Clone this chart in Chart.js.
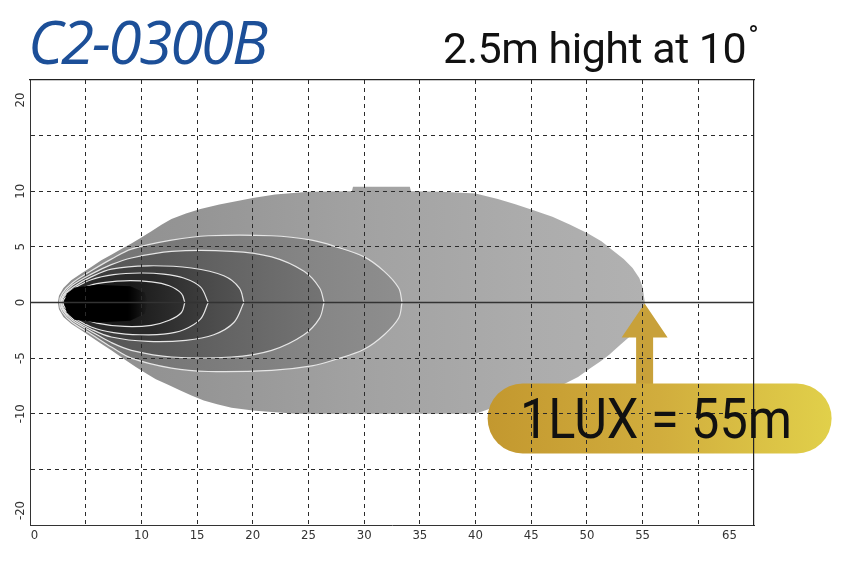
<!DOCTYPE html>
<html>
<head>
<meta charset="utf-8">
<title>C2-0300B beam pattern</title>
<script src="https://cdn.jsdelivr.net/npm/chart.js@4.4.1/dist/chart.umd.min.js"></script>
<style>
  html, body { margin: 0; padding: 0; background: #fff; }
  #wrap { position: relative; width: 860px; height: 580px; overflow: hidden; }
  #beam { position: absolute; left: 0; top: 0; }
  .model { position: absolute; left: 28px; top: 11px; font: italic 400 60px/1 'Open Sans', sans-serif; letter-spacing: -2.2px; color: #1c4f98; white-space: nowrap; }
  .mount { position: absolute; left: 443px; top: 27px; font: 400 43px/1 Roboto, sans-serif; letter-spacing: -0.5px; color: #111; white-space: nowrap; }
  .mount .deg { font-size: 28px; position: relative; top: -18px; margin-left: 2px; }
  .lux { position: absolute; left: 484px; top: 391px; width: 344px; text-align: center; font: 400 56px/1 Roboto, sans-serif; color: #111; white-space: nowrap; transform: scaleX(0.9); }
</style>
</head>
<body>
<div id="wrap">
  <canvas id="beam" width="860" height="580"></canvas>
  <div class="model">C2-0300B</div>
  <div class="mount">2.5m hight at 10<span class="deg">°</span></div>
  <div class="lux">1LUX = 55m</div>
</div>
<script>
// axis ticks (metres) - the original sheet has a few labels nudged off their grid lines
const xGridValues = [5, 10, 15, 20, 25, 30, 35, 40, 45, 50, 55, 60];
const xTickValues = [0.4, 10, 15, 20, 25, 30, 35, 40, 45, 50, 55, 62.8];
const xTickLabels = ['0', '10', '15', '20', '25', '30', '35', '40', '45', '50', '55', '65'];
const yGridValues = [-15, -10, -5, 5, 10, 15];
const yTickValues = [-18.7, -10, -5, 0, 5, 10, 18.2];
const yTickLabels = ['-20', '-10', '-5', '0', '5', '10', '20'];

const luxRangeMetres = 55;

// outlines as [distance ahead, sideways offset]
const lux1Edge = [[55.2,0],[55.0,1.4],[54.7,2.2],[54.1,3.1],[53.3,3.9],[52.3,4.7],[51.3,5.5],[50.1,6.2],[48.5,7.0],[46.9,7.7],[45.2,8.3],[43.5,8.85],[42,9.3],[40,9.8],[37,9.95],[34.2,10.0],[34.1,10.4],[29.0,10.4],[28.9,10.0],[25,9.95],[22,9.7],[20,9.4],[18.5,9.1],[17,8.8],[15.3,8.4],[14,8.0],[12.7,7.5],[11.8,7.0],[10.9,6.4],[10,5.85],[9.1,5.3],[8.2,4.8],[7.3,4.3],[6.4,3.8],[5.5,3.2],[4.6,2.6],[3.7,2.0],[3.0,1.3],[2.6,0.6],[2.5,0],
  [2.6,-0.6],[3.0,-1.3],[3.7,-1.9],[4.6,-2.5],[5.5,-3.1],[6.4,-3.7],[7.3,-4.3],[8.4,-5.05],[9.5,-5.8],[10.4,-6.35],[11.3,-6.9],[12.4,-7.4],[13.5,-7.9],[14.5,-8.35],[15.6,-8.8],[16.8,-9.15],[18.1,-9.45],[20,-9.7],[21.7,-9.85],[23.9,-10.0],[40,-10.0],[42,-9.3],[45,-8.4],[47.6,-7.5],[49.2,-6.7],[50.3,-5.9],[51.2,-5.3],[52,-4.7],[53,-3.8],[53.9,-3.0],[54.5,-2.2],[54.8,-1.6],[55.1,-0.7],[55.2,0]];
const contourE = [[33.4,0],[33.1,1.3],[31.8,2.8],[30,4.1],[27.5,5.0],[25.3,5.6],[21.7,6.0],[16,6.0],[12.7,5.6],[9.1,4.8],[7.3,3.9],[5.5,2.85],[3.8,1.75],[2.9,0.8],[2.65,0],
  [2.9,-0.85],[3.8,-1.8],[5.5,-2.85],[7.3,-4.0],[9.1,-5.0],[12.7,-5.9],[16,-6.2],[21.7,-6.1],[25.3,-5.7],[27.5,-5.1],[30,-4.2],[31.8,-2.9],[33.1,-1.4],[33.4,0]];
const contourD = [[26.4,0],[26,1.3],[24.6,2.8],[21.7,4.1],[18.1,4.6],[12.7,4.6],[9.1,4.0],[7.3,3.4],[5.5,2.55],[3.8,1.55],[3.0,0.7],[2.75,0],
  [3.0,-0.75],[3.8,-1.6],[5.5,-2.6],[7.3,-3.6],[9.1,-4.3],[12.7,-4.9],[18.1,-4.9],[21.7,-4.3],[24.6,-2.9],[26,-1.4],[26.4,0]];
const contourC = [[19.2,0],[18.8,1.3],[17.4,2.4],[14.5,3.1],[10.6,3.3],[7.3,3.0],[5.5,2.3],[3.9,1.4],[3.05,0.65],[2.8,0],
  [3.05,-0.7],[3.9,-1.5],[5.5,-2.4],[7.3,-3.1],[10.6,-3.5],[14,-3.4],[16.5,-2.9],[18.3,-1.8],[19.2,0]];
const contourB = [[16,0],[15.3,1.4],[13.8,2.2],[12,2.55],[9.9,2.65],[7.5,2.5],[5.5,2.05],[4,1.3],[3.1,0.6],[2.85,0],
  [3.1,-0.65],[4,-1.4],[5.5,-2.2],[7.5,-2.7],[9.9,-2.9],[12,-2.85],[13.8,-2.45],[15.3,-1.5],[16,0]];
const contourA = [[13.9,0],[13.6,0.8],[12.5,1.5],[10.9,1.85],[8.5,1.95],[6,1.7],[4.5,1.2],[3.3,0.55],[2.95,0],
  [3.3,-0.6],[4.5,-1.3],[6,-1.85],[8.5,-2.15],[10.9,-2.05],[12.5,-1.6],[13.6,-0.9],[13.9,0]];
const hotCore = [[10.6,0],[10.3,0.9],[9,1.45],[6,1.6],[4,1.35],[3.3,0.8],[3.05,0],
  [3.3,-0.9],[4,-1.55],[6,-1.8],[9,-1.65],[10.3,-1.0],[10.6,0]];
const centreLine = [[0,0],[65,0]];

const pts = arr => arr.map(([x, y]) => ({ x, y }));
const mergeTicks = (a, b) => [...new Set([...a, ...b])].sort((p, q) => p - q).map(value => ({ value }));
const labelFor = (values, labels) => v => {
    const i = values.indexOf(v);
    return i >= 0 ? labels[i] : '';
};

// horizontal grey ramp along the beam, stops given in metres
function xShade(stops) {
    return (context) => {
        const chart = context.chart;
        const xs = chart.scales.x;
        if (!chart.chartArea || !xs) return stops[0][1];
        const first = stops[0][0], last = stops[stops.length - 1][0];
        const g = chart.ctx.createLinearGradient(xs.getPixelForValue(first), 0, xs.getPixelForValue(last), 0);
        stops.forEach(([v, c]) => g.addColorStop((v - first) / (last - first), c));
        return g;
    };
}

function zone(label, outline, stops, order, line = true) {
    return {
        label,
        data: pts(outline),
        showLine: true,
        fill: 'shape',
        tension: line ? 0.35 : 0,
        backgroundColor: xShade(stops),
        borderColor: '#e6e6e6',
        borderWidth: line ? 1.2 : 0,
        pointRadius: 0,
        order
    };
}

// gold arrow + pill behind the "1LUX" text
const luxBadge = {
    id: 'luxBadge',
    afterDatasetsDraw(chart) {
        const { ctx, scales: { x, y } } = chart;
        const tipX = x.getPixelForValue(luxRangeMetres) + 2;
        const tipY = y.getPixelForValue(0) + 1;
        ctx.save();
        ctx.fillStyle = '#c8a13a';
        ctx.beginPath();
        ctx.moveTo(tipX, tipY);
        ctx.lineTo(tipX + 23, tipY + 34);
        ctx.lineTo(tipX + 8.5, tipY + 34);
        ctx.lineTo(tipX + 8.5, tipY + 85);
        ctx.lineTo(tipX - 8.5, tipY + 85);
        ctx.lineTo(tipX - 8.5, tipY + 34);
        ctx.lineTo(tipX - 23, tipY + 34);
        ctx.closePath();
        ctx.fill();

        const left = tipX - 157, right = tipX + 187, top = tipY + 80, bottom = tipY + 150;
        const g = ctx.createLinearGradient(left, 0, right, 0);
        g.addColorStop(0, '#c3982f');
        g.addColorStop(0.5, '#d1ad3d');
        g.addColorStop(1, '#e1d04a');
        ctx.fillStyle = g;
        ctx.beginPath();
        ctx.roundRect(left, top, right - left, bottom - top, (bottom - top) / 2);
        ctx.fill();
        ctx.restore();
    }
};

const tickFont = { family: "'DejaVu Sans Condensed', 'Liberation Sans Narrow', 'Liberation Sans', sans-serif", size: 13 };
const gridColor = values => c => (c.tick && values.includes(c.tick.value)) ? '#2b2b2b' : 'rgba(0,0,0,0)';

new Chart(document.getElementById('beam'), {
    type: 'scatter',
    data: {
        datasets: [
            { label: 'axis', data: pts(centreLine), showLine: true, fill: false, borderColor: '#333', borderWidth: 1.4, pointRadius: 0, order: 0 },
            zone('core', hotCore, [[3, '#000'], [8.8, '#000'], [10.6, 'rgba(0,0,0,0)']], 1, false),
            zone('A', contourA, [[3, '#202020'], [9, '#1a1a1a'], [13.9, '#303030']], 2),
            zone('B', contourB, [[3, '#2a2a2a'], [11, '#2a2a2a'], [16, '#3e3e3e']], 3),
            zone('C', contourC, [[3, '#3c3c3c'], [12, '#3e3e3e'], [19.2, '#545454']], 4),
            zone('D', contourD, [[3, '#565656'], [12, '#5a5a5a'], [20, '#686868'], [26.4, '#747474']], 5),
            zone('E', contourE, [[3, '#727272'], [15, '#7a7a7a'], [25, '#858585'], [33.4, '#8e8e8e']], 6),
            zone('1 lux', lux1Edge, [[2.5, '#8e8e8e'], [15, '#959595'], [30, '#a2a2a2'], [45, '#acacac'], [55.2, '#b1b1b1']], 7, false)
        ]
    },
    options: {
        responsive: false,
        animation: false,
        events: [],
        layout: { padding: { top: 80, right: 106, left: 0, bottom: 0 } },
        plugins: { legend: { display: false }, tooltip: { enabled: false } },
        scales: {
            x: {
                type: 'linear', position: 'bottom', min: 0, max: 65,
                afterBuildTicks: s => { s.ticks = mergeTicks(xGridValues, xTickValues); },
                afterFit: s => { s.height = 55; },
                grid: { z: 1, drawTicks: false, lineWidth: 1, color: gridColor(xGridValues) },
                border: { display: true, color: '#333', width: 1, dash: [4, 4], z: 1 },
                ticks: { z: 1, padding: 3, color: '#333', font: tickFont, autoSkip: false, maxRotation: 0, callback: labelFor(xTickValues, xTickLabels) }
            },
            y: {
                type: 'linear', position: 'left', min: -20, max: 20,
                afterBuildTicks: s => { s.ticks = mergeTicks(yGridValues, yTickValues); },
                afterFit: s => { s.width = 30; },
                grid: { z: 1, drawTicks: false, lineWidth: 1, color: gridColor(yGridValues) },
                border: { display: true, color: '#333', width: 1, dash: [4, 4], z: 1 },
                ticks: { z: 1, padding: 0, color: '#333', font: tickFont, autoSkip: false, minRotation: 90, maxRotation: 90, crossAlign: 'center', callback: labelFor(yTickValues, yTickLabels) }
            },
            x2: {
                type: 'linear', position: 'top', min: 0, max: 65,
                afterFit: s => { s.height = 0; },
                grid: { display: false, drawTicks: false },
                border: { display: true, color: '#222', width: 1.2, z: 1 },
                ticks: { display: false }
            },
            y2: {
                type: 'linear', position: 'right', min: -20, max: 20,
                afterFit: s => { s.width = 0; },
                grid: { display: false, drawTicks: false },
                border: { display: true, color: '#222', width: 1.2, z: 1 },
                ticks: { display: false }
            }
        }
    },
    plugins: [luxBadge]
});
</script>
</body>
</html>
